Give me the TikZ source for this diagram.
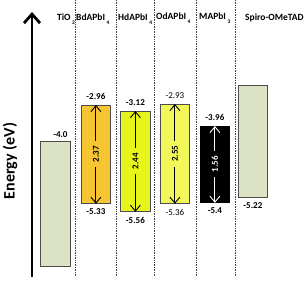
\documentclass[tikz,border=0pt]{standalone}
\usepackage{fontspec}
\setmainfont{Carlito}
\usetikzlibrary{positioning, arrows.meta}

\definecolor{tiogreen}{HTML}{DCE3C4}
\definecolor{bdaorange}{HTML}{F7C531}
\definecolor{hdayellow}{HTML}{E8F51A}
\definecolor{odayellow}{HTML}{F2F75A}

\newcommand{\lowsub}[1]{\,\raisebox{-4pt}{\fontsize{5.5}{6}\selectfont #1}}

\tikzstyle{bandbox} = [
    rectangle,
    anchor=north west,
    inner sep=0pt,
    minimum width=29pt,
    line width=0.8pt,
    draw=gray!60!black
]
\tikzstyle{layername} = [
    anchor=base west,
    inner sep=0pt,
    font=\fontsize{9.5}{10}\selectfont\bfseries
]
\tikzstyle{value} = [
    inner sep=1pt,
    font=\fontsize{9}{10}\selectfont\bfseries
]
\tikzstyle{gaplabel} = [
    rotate=90,
    inner xsep=5pt,
    inner ysep=1pt,
    font=\fontsize{9}{10}\selectfont\bfseries
]
\tikzstyle{bandgap} = [line width=0.9pt, {Straight Barb[length=6pt,width=10pt]}-{Straight Barb[length=6pt,width=10pt]}]
\tikzstyle{separator} = [densely dotted, line width=0.7pt, gray!50!black]
\tikzstyle{energyaxis} = [line width=2.8pt, -{Straight Barb[length=9pt,width=16pt]}]

\begin{document}
\begin{tikzpicture}[x=1pt, y=-1pt, node distance=4pt]

\useasboundingbox (0,0) rectangle (306,282);

% separators
\foreach \x in {75,116,154,196,235}
    \draw [separator] (\x,0) -- (\x,277);

% energy axis
\coordinate (axisbottom) at (32,277);
\coordinate (axistop) at (32,12);
\draw [energyaxis] (axisbottom) -- (axistop);
\node (energy) [rotate=90, font=\fontsize{16}{18}\selectfont\bfseries] at (10,161) {Energy (eV)};

% layer names
\node (tio2name) [layername] at (57,20) {TiO\lowsub{2}};
\node (bdaname) [layername] at (76,20) {BdAPbI\lowsub{4}};
\node (hdaname) [layername] at (118,20) {HdAPbI\lowsub{4}};
\node (odaname) [layername] at (156,19) {OdAPbI\lowsub{4}};
\node (maname) [layername] at (199,19) {MAPbI\lowsub{3}};
\node (spironame) [layername] at (245,20) {Spiro-OMeTAD};

% bands
\node (tio2) [bandbox, minimum width=30pt, minimum height=125pt, fill=tiogreen] at (40,141) {};
\node (bda) [bandbox, minimum height=98pt, fill=bdaorange] at (81,105) {};
\node (hda) [bandbox, minimum width=30pt, minimum height=100pt, fill=hdayellow] at (120,111) {};
\node (oda) [bandbox, minimum height=99pt, fill=odayellow] at (160,104) {};
\node (ma) [bandbox, minimum height=76pt, fill=black, draw=black] at (200,126) {};
\node (spiro) [bandbox, minimum height=112pt, fill=tiogreen] at (238,85) {};

% energy values
\node (tio2top) [value, above=2pt of tio2, xshift=5pt] {-4.0};
\node (bdatop) [value, above=of bda] {-2.96};
\node (bdabot) [value, below=of bda] {-5.33};
\node (hdatop) [value, above=of hda] {-3.12};
\node (hdabot) [value, below=of hda] {-5.56};
\node (odatop) [value, above=of oda, font=\fontsize{9}{10}\selectfont] {-2.93};
\node (odabot) [value, below=of oda, font=\fontsize{9}{10}\selectfont] {-5.36};
\node (matop) [value, above=of ma] {-3.96};
\node (mabot) [value, below=of ma] {-5.4};
\node (spirobot) [value, below=of spiro] {-5.22};

% band gaps
\draw [bandgap] (bda.north) -- node [gaplabel, fill=bdaorange] {2.37} (bda.south);
\draw [bandgap] (hda.north) -- node [gaplabel, fill=hdayellow] {2.44} (hda.south);
\draw [bandgap] (oda.north) -- node [gaplabel, fill=odayellow] {2.55} (oda.south);
\draw [bandgap, white] (ma.north) -- node [gaplabel, fill=black, text=white] {1.56} (ma.south);

\end{tikzpicture}
\end{document}
